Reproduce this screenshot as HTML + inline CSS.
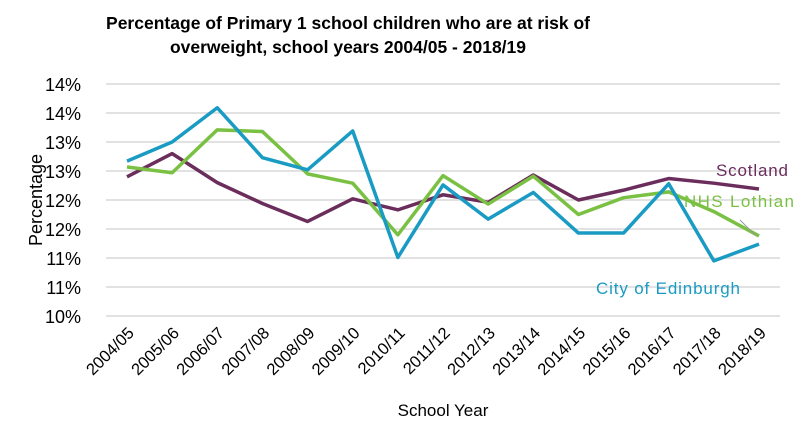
<!DOCTYPE html>
<html><head><meta charset="utf-8"><style>
body{margin:0;background:#fff;}
svg text{font-family:"Liberation Sans",Arial,sans-serif;}
</style></head><body>
<svg width="800" height="443" viewBox="0 0 800 443">
<text x="348" y="29" text-anchor="middle" font-size="17.5" font-weight="bold" fill="#000" textLength="484">Percentage of Primary 1 school children who are at risk of</text>
<text x="348" y="53" text-anchor="middle" font-size="17.5" font-weight="bold" fill="#000">overweight, school years 2004/05 - 2018/19</text>
<g id="grid"></g>
<g id="yticks"></g>
<g id="xticks"></g>
<g id="series"></g>
<text transform="translate(42,200) rotate(-90)" text-anchor="middle" font-size="18" fill="#000">Percentage</text>
<text x="443" y="416" text-anchor="middle" font-size="17" fill="#000">School Year</text>
<text x="716" y="176" font-size="17" fill="#6b2d5c" textLength="72">Scotland</text>
<text x="684" y="207" font-size="17" fill="#7ac143" textLength="110">NHS Lothian</text>
<text x="596" y="294" font-size="17" fill="#1a9bc4" textLength="144">City of Edinburgh</text>
<line x1="740" y1="220" x2="756" y2="236" stroke="#999" stroke-width="1"/>
</svg>
<script>
const categories=["2004/05","2005/06","2006/07","2007/08","2008/09","2009/10","2010/11","2011/12","2012/13","2013/14","2014/15","2015/16","2016/17","2017/18","2018/19"];
const edinburgh=[12.67,13.0,13.59,12.73,12.52,13.19,11.01,12.26,11.67,12.13,11.43,11.43,12.28,10.95,11.24];
const lothian=[12.57,12.47,13.21,13.18,12.45,12.29,11.40,12.42,11.93,12.41,11.75,12.04,12.14,11.80,11.38];
const scotland=[12.40,12.80,12.30,11.94,11.63,12.02,11.83,12.09,11.96,12.43,12.0,12.17,12.37,12.29,12.19];
const yTickValues=[10,10.5,11,11.5,12,12.5,13,13.5,14];
const yTickLabels=["10%","11%","11%","12%","12%","13%","13%","14%","14%"];
const NS="http://www.w3.org/2000/svg";
const x0=127,x1=759,yMin=10,yMax=14,py0=316,py1=84;
function xs(i){return x0+(x1-x0)*i/(categories.length-1);}
function ys(v){return py0-(v-yMin)/(yMax-yMin)*(py0-py1);}
const grid=document.getElementById('grid'),yt=document.getElementById('yticks'),xt=document.getElementById('xticks'),sg=document.getElementById('series');
yTickValues.forEach((v,i)=>{
 const l=document.createElementNS(NS,'line');
 l.setAttribute('x1',106);l.setAttribute('x2',780);l.setAttribute('y1',ys(v));l.setAttribute('y2',ys(v));
 l.setAttribute('stroke','#d9d9d9');l.setAttribute('stroke-width','1.5');
 
 
 grid.appendChild(l);
 const t=document.createElementNS(NS,'text');
 t.setAttribute('x',81);t.setAttribute('y',ys(v)+7);t.setAttribute('text-anchor','end');t.setAttribute('font-size','18');
 t.textContent=yTickLabels[i];
 
 
 yt.appendChild(t);
});
categories.forEach((c,i)=>{
 const t=document.createElementNS(NS,'text');
 const x=xs(i)+8,y=334;
 t.setAttribute('transform','translate('+x+','+y+') rotate(-45)');
 t.setAttribute('text-anchor','end');t.setAttribute('font-size','16.5');
 t.textContent=c;
 
 
 xt.appendChild(t);
});
function draw(arr,color,name){
 const p=document.createElementNS(NS,'polyline');
 p.setAttribute('points',arr.map((v,i)=>xs(i)+','+ys(v)).join(' '));
 p.setAttribute('fill','none');p.setAttribute('stroke',color);p.setAttribute('stroke-width','3.5');p.setAttribute('stroke-linejoin','round');
 
 
 sg.appendChild(p);
}
draw(scotland,'#6b2d5c','line-scotland');
draw(lothian,'#7ac143','line-nhs-lothian');
draw(edinburgh,'#1a9bc4','line-city-of-edinburgh');
</script>
</body></html>
